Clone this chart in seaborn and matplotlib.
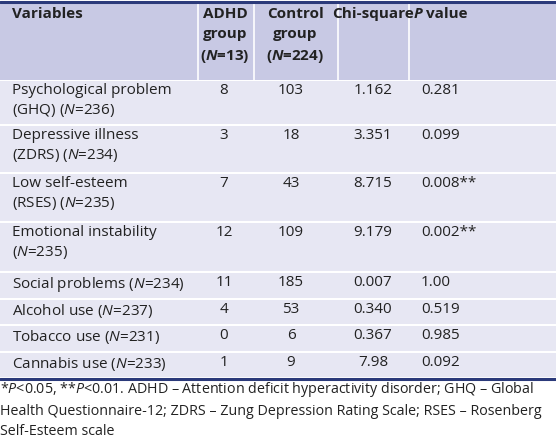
import matplotlib
matplotlib.use("Agg")
import matplotlib.pyplot as plt
import seaborn as sns
from matplotlib.patches import Rectangle

sns.set_theme(style="white")
plt.rcParams['font.family'] = ['Open Sans', 'DejaVu Sans']
plt.rcParams['mathtext.fontset'] = 'custom'
plt.rcParams['mathtext.it'] = 'Open Sans:italic'
plt.rcParams['mathtext.rm'] = 'Open Sans'
plt.rcParams['mathtext.bf'] = 'Open Sans:bold:italic'

headers = ["Variables", "ADHD\ngroup\n($\\mathbf{N}$=13)", "Control\ngroup\n($\\mathbf{N}$=224)", "Chi-square", "value"]
variables = ["Psychological problem\n(GHQ) ($N$=236)", "Depressive illness\n(ZDRS) ($N$=234)",
             "Low self-esteem\n(RSES) ($N$=235)", "Emotional instability\n($N$=235)",
             "Social problems ($N$=234)", "Alcohol use ($N$=237)", "Tobacco use ($N$=231)",
             "Cannabis use ($N$=233)"]
adhd = ["8", "3", "7", "12", "11", "4", "0", "1"]
control = ["103", "18", "43", "109", "185", "53", "6", "9"]
chi = ["1.162", "3.351", "8.715", "9.179", "0.007", "0.340", "0.367", "7.98"]
pval = ["0.281", "0.099", "0.008**", "0.002**", "1.00", "0.519", "0.985", "0.092"]
footnote = ("*$P$<0.05, **$P$<0.01. ADHD – Attention deficit hyperactivity disorder; GHQ – Global\n"
            "Health Questionnaire-12; ZDRS – Zung Depression Rating Scale; RSES – Rosenberg\n"
            "Self-Esteem scale")

fig = plt.figure(figsize=(5.56, 4.41), dpi=100)
ax = fig.add_axes([0, 0, 1, 1])
ax.set_xlim(0, 556); ax.set_ylim(441, 0); ax.axis("off")

hdr_c = "#c8c9e4"; body_c = "#e7e7f3"; navy = "#2b3a7a"; tc = "#222222"
col_edges = [0, 198, 254, 338, 409, 556]
ax.add_patch(Rectangle((0, 2), 556, 78, color=hdr_c, lw=0))
for e in col_edges[1:-1]:
    ax.plot([e, e], [2, 80], color="white", lw=1.2)
row_edges = [80, 125, 173, 222, 272, 299, 325, 352, 378]
for i in range(len(variables)):
    ax.add_patch(Rectangle((0, row_edges[i] + 0.7), 556, row_edges[i+1] - row_edges[i] - 1.4, color=body_c, lw=0))
ax.plot([0, 556], [1.5, 1.5], color=navy, lw=2.2)
ax.plot([0, 556], [378.5, 378.5], color=navy, lw=2.2)

fs = 11
ax.text(12, 7, headers[0], ha="left", va="top", fontsize=fs, weight="bold", color=tc)
for x, h in zip([225, 295], headers[1:3]):
    ax.text(x, 7, h, ha="center", va="top", fontsize=fs, weight="bold", color=tc, linespacing=1.55)
ax.text(373, 7, headers[3], ha="center", va="top", fontsize=fs, weight="bold", color=tc)
ax.text(414, 7, "P", ha="left", va="top", fontsize=fs, weight="bold", style="italic", color=tc)
ax.text(426, 7, headers[4], ha="left", va="top", fontsize=fs, weight="bold", color=tc)

for i in range(len(variables)):
    y = row_edges[i] + 3
    ax.text(12, y, variables[i], ha="left", va="top", fontsize=fs, color=tc, linespacing=1.3)
    ax.text(224, y, adhd[i], ha="center", va="top", fontsize=fs, color=tc)
    ax.text(291, y, control[i], ha="center", va="top", fontsize=fs, color=tc)
    ax.text(373, y, chi[i], ha="center", va="top", fontsize=fs, color=tc)
    ax.text(421, y, pval[i], ha="left", va="top", fontsize=fs, color=tc)

ax.text(0, 380, footnote, ha="left", va="top", fontsize=10.3, color=tc, linespacing=1.45)
fig.savefig("out.png", dpi=100)
